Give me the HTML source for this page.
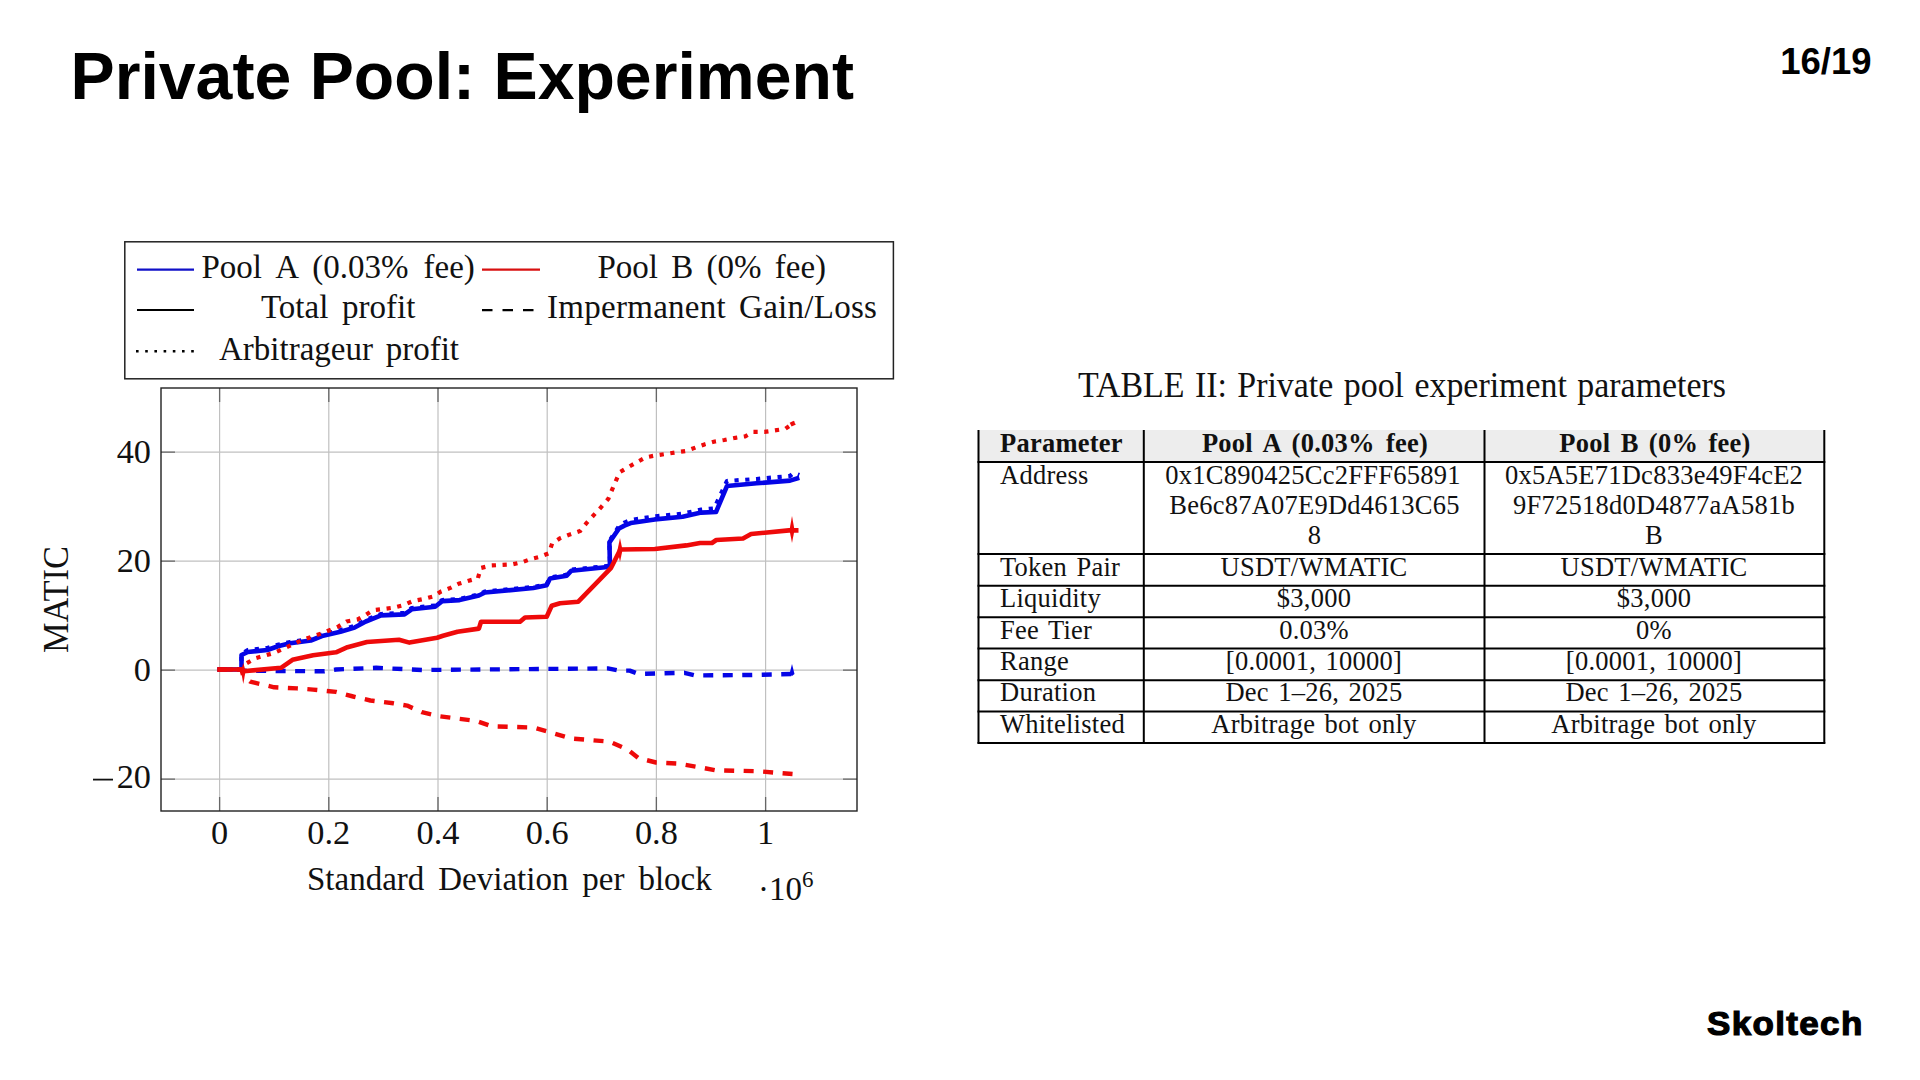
<!DOCTYPE html>
<html><head><meta charset="utf-8">
<style>
html,body{margin:0;padding:0;background:#fff;}
body{width:1920px;height:1080px;overflow:hidden;position:relative;}
svg{position:absolute;left:0;top:0;}
.sans{font-family:"Liberation Sans",sans-serif;font-weight:bold;}
.serif{font-family:"Liberation Serif",serif;}
</style></head><body>
<svg width="1920" height="1080" viewBox="0 0 1920 1080">
<!-- Title -->
<text class="sans" x="70.5" y="99" font-size="66.2" fill="#000">Private Pool: Experiment</text>
<text class="sans" x="1871.5" y="73.5" font-size="36.5" fill="#000" text-anchor="end">16/19</text>
<text class="sans" x="1707" y="1034.6" font-size="34" fill="#000" stroke="#000" stroke-width="1.2" letter-spacing="1.3" transform="translate(1707 0) scale(1.03 1) translate(-1707 0)">Skoltech</text>

<!-- Legend -->
<g id="legend">
<rect x="124.8" y="241.8" width="768.6" height="137" fill="#fff" stroke="#222" stroke-width="1.5"/>
<g class="serif" font-size="33" fill="#111">
<text x="201.5" y="278" word-spacing="6.8">Pool A (0.03% fee)</text>
<text x="597.5" y="278" word-spacing="5">Pool B (0% fee)</text>
<text x="261" y="318" word-spacing="5.5">Total profit</text>
<text x="547" y="318" word-spacing="4.5" letter-spacing="0.28">Impermanent Gain/Loss</text>
<text x="219" y="360" word-spacing="4.5">Arbitrageur profit</text>
</g>
<line x1="137" y1="269.6" x2="194" y2="269.6" stroke="#1010c8" stroke-width="2.2"/>
<line x1="482" y1="269.6" x2="540" y2="269.6" stroke="#d81010" stroke-width="2.2"/>
<line x1="137" y1="310" x2="194" y2="310" stroke="#000" stroke-width="2.2"/>
<line x1="482" y1="310.1" x2="533.5" y2="310.1" stroke="#000" stroke-width="2.2" stroke-dasharray="10.5 10"/>
<line x1="136" y1="351.3" x2="195" y2="351.3" stroke="#000" stroke-width="2.6" stroke-dasharray="2.6 6.6"/>
</g>

<!-- Plot -->
<g id="plot">
<!-- grid -->
<g stroke="#c0c0c0" stroke-width="1.2">
<line x1="219.6" y1="388" x2="219.6" y2="811"/>
<line x1="328.8" y1="388" x2="328.8" y2="811"/>
<line x1="438" y1="388" x2="438" y2="811"/>
<line x1="547.2" y1="388" x2="547.2" y2="811"/>
<line x1="656.4" y1="388" x2="656.4" y2="811"/>
<line x1="765.6" y1="388" x2="765.6" y2="811"/>
<line x1="161" y1="452.2" x2="857" y2="452.2"/>
<line x1="161" y1="561.2" x2="857" y2="561.2"/>
<line x1="161" y1="670.2" x2="857" y2="670.2"/>
<line x1="161" y1="779.2" x2="857" y2="779.2"/>
</g>
<!-- ticks -->
<g stroke="#666" stroke-width="1.3">
<path d="M219.6 388v14M328.8 388v14M438 388v14M547.2 388v14M656.4 388v14M765.6 388v14"/>
<path d="M219.6 811v-14M328.8 811v-14M438 811v-14M547.2 811v-14M656.4 811v-14M765.6 811v-14"/>
<path d="M161 452.2h14M161 561.2h14M161 670.2h14M161 779.2h14"/>
<path d="M857 452.2h-14M857 561.2h-14M857 670.2h-14M857 779.2h-14"/>
</g>
<g id="data" fill="none" stroke-linejoin="round">
<polyline points="217.5,669.5 241.5,669.5 243.2,670.7 324.6,671.3 336,669.5 376.2,667.8 422,670 607.8,668.4 618.8,670.6 629.7,670.6 638.5,673.9 684.4,672.8 695.3,675.4 750,675 798.2,673.9" stroke="#0505e6" stroke-width="4.4" stroke-dasharray="10 9.5"/>
<polyline points="217.5,669.5 241.5,669.5 241.5,654 247.8,650 267.3,648 278.8,644.5 290.2,642 310.8,639 322,634.5 340.4,630 354.6,626 365.8,620 381.1,614 404.5,613 411.7,608 435.1,605.5 442.2,600 459.5,599 478.9,594.5 485,591.5 533.3,587 546.7,584.3 550,577.6 566.7,574.7 571.4,569.7 610,565.7 609.4,541 619,526 624.4,522.6 630.7,520 654.8,516.4 682.6,513.7 701.1,509.6 714,508.5 727,481 756.7,479 790,476 793.7,473 799.3,475" stroke="#0505e6" stroke-width="4.2" stroke-dasharray="4.2 6.6"/>
<polyline points="217.5,669.5 241.5,669.5 241.5,655 247.8,652 267.3,650 278.8,646 290.2,643.2 310.8,640.5 322,636 340.4,631.7 354.6,627.6 365.8,621.5 381.1,615.4 404.5,614.4 411.7,609.3 435.1,606.7 442.2,601.1 459.5,600.1 478.9,595.5 485,592.5 533.3,588 546.7,585.3 550,578.6 566.7,575.7 571.4,570.7 610,566.7 609.4,542.4 619,528.5 624.4,525.6 630.7,523.1 654.8,519.4 682.6,516.7 701.1,512.6 716,512 727,486 756.7,483.3 790,480.6 799.3,477.8" stroke="#0505e6" stroke-width="4.6"/>
<polyline points="217.5,669.5 241.5,669.5 243.2,675.8 250.1,681.6 274.2,687.3 297.1,688.4 313.1,689.6 336,691.9 353.2,696.5 370.4,700.5 393.3,703.3 407.1,705.6 421.9,712.2 438.3,716.1 476.6,721 491.9,726.4 533.4,727.5 548.8,731.9 570.6,738.4 610,741.7 627.5,749.4 638.5,758.1 656,762.5 677.8,763.6 697.5,766.9 715,770.2 758.8,771.3 798.2,774.5" stroke="#ee0a0a" stroke-width="4.4" stroke-dasharray="10 9.5"/>
<polyline points="217.5,669.5 241.5,669.5 246.7,663.2 255.8,658.1 274.2,652.9 284.5,648.3 301.7,640.3 324.6,632.3 338.3,626.6 346.5,621.5 357.7,619.4 365.8,614.9 373,610.3 393.3,607.7 403.5,605.2 412.7,601.1 422.9,599.1 433.1,596.5 441.2,591.4 450.4,587.9 458.5,583.8 468.7,580.7 477.9,578.2 480.9,568 491.1,565.5 512.2,564.4 522.2,562.2 531.1,558.9 540,556.7 548.9,553.3 552.2,543.3 560,538.3 570,534.4 580,531.1 586.7,522.8 593.3,515.6 601.1,507.2 608.3,498.9 611.7,490.6 619.6,472.2 630.7,465.7 645.6,457.4 654.8,455.6 686.3,450.9 704.4,444.4 714.8,441.5 724.4,440 735.5,437.8 745.2,436.3 753.3,431.9 764.4,431.9 774.8,430.4 785.2,428.9 792.6,423.7 795,423" stroke="#ee0a0a" stroke-width="4.2" stroke-dasharray="4.2 6.6"/>
<polyline points="217.5,669.5 241.5,669.5 243.2,671.3 255.8,670.1 281,667.8 292.5,659.8 313.1,655.2 336,652.3 347.5,647.2 367,642 399,639.7 409.4,642.6 437.1,637.8 443,635.8 457.5,631.7 478.9,628.6 481,621.8 520,621.7 525,617.5 546.7,616.7 551.7,605.8 560,603.3 578.3,601.7 611.1,567.8 620.3,549.5 654.8,549 686.3,545.4 700,543 711.9,543 716.3,540 743,538.5 751.1,534 788.9,530.4 798.5,530.4" stroke="#ee0a0a" stroke-width="4.6"/>
<g stroke="none">
<rect x="790.4" y="421.5" width="4.4" height="4.4" fill="#ee0a0a" transform="rotate(-25 792.6 423.7)"/>
<path d="M243.3 663 L245.6 671 L243.3 684 L241 671Z" fill="#ee0a0a"/>
<path d="M620 538 L622.5 550 L620 562 L617.5 550Z" fill="#ee0a0a"/>
<path d="M792 516 L794.5 530 L792 543 L789.5 530Z" fill="#ee0a0a"/>
<path d="M792 664 L794.5 674 L792 676 L789.5 674Z" fill="#0505e6"/>
</g>
</g>
<rect x="161" y="388" width="696" height="423" fill="none" stroke="#222" stroke-width="1.4"/>
</g>

<!-- axis labels -->
<g class="serif" font-size="34.3" fill="#111">
<text x="151" y="462.7" text-anchor="end">40</text>
<text x="151" y="571.8" text-anchor="end">20</text>
<text x="151" y="680.8" text-anchor="end">0</text>
<text x="151" y="788" text-anchor="end">20</text>
<line x1="93" y1="779.6" x2="113" y2="779.6" stroke="#111" stroke-width="1.8"/>
<text x="219.6" y="844.2" text-anchor="middle">0</text>
<text x="328.8" y="844.2" text-anchor="middle">0.2</text>
<text x="438" y="844.2" text-anchor="middle">0.4</text>
<text x="547.2" y="844.2" text-anchor="middle">0.6</text>
<text x="656.4" y="844.2" text-anchor="middle">0.8</text>
<text x="765.6" y="844.2" text-anchor="middle">1</text>
<text x="307" y="889.8" font-size="33" word-spacing="5.7">Standard Deviation per block</text>
<text x="758" y="899.6" font-size="33">·10<tspan font-size="23" dy="-13">6</tspan></text>
<text transform="translate(67.8,599.6) rotate(-90)" text-anchor="middle" font-size="36" textLength="107" lengthAdjust="spacingAndGlyphs">MATIC</text>
</g>

<!-- Table -->
<g id="table">
<text class="serif" x="1078" y="396.8" font-size="35" fill="#111" word-spacing="2" textLength="648" lengthAdjust="spacingAndGlyphs">TABLE II: Private pool experiment parameters</text>
<rect x="979" y="430" width="845" height="31.5" fill="#ededed"/>
<g stroke="#000" stroke-width="2" fill="none">
<line x1="978.5" y1="430" x2="978.5" y2="743.5"/>
<line x1="1143.8" y1="430" x2="1143.8" y2="743.5"/>
<line x1="1484.5" y1="430" x2="1484.5" y2="743.5"/>
<line x1="1824.3" y1="430" x2="1824.3" y2="743.5"/>
<line x1="977.5" y1="462" x2="1825.3" y2="462"/>
<line x1="977.5" y1="554" x2="1825.3" y2="554"/>
<line x1="977.5" y1="585.7" x2="1825.3" y2="585.7"/>
<line x1="977.5" y1="617.2" x2="1825.3" y2="617.2"/>
<line x1="977.5" y1="648.6" x2="1825.3" y2="648.6"/>
<line x1="977.5" y1="680.2" x2="1825.3" y2="680.2"/>
<line x1="977.5" y1="711.6" x2="1825.3" y2="711.6"/>
<line x1="977.5" y1="743" x2="1825.3" y2="743"/>
</g>
<g class="serif" font-size="26.5" fill="#111" word-spacing="2.5" letter-spacing="0.25">
<text x="1000" y="452" font-weight="bold">Parameter</text>
<text x="1315" y="452" font-weight="bold" text-anchor="middle" word-spacing="4.2">Pool A (0.03% fee)</text>
<text x="1655" y="452" font-weight="bold" text-anchor="middle" word-spacing="3.4">Pool B (0% fee)</text>
<text x="1000" y="483.5">Address</text>
<text x="1313" y="483.5" text-anchor="middle">0x1C890425Cc2FFF65891</text>
<text x="1314.5" y="513.8" text-anchor="middle">Be6c87A07E9Dd4613C65</text>
<text x="1314.5" y="544" text-anchor="middle">8</text>
<text x="1654" y="483.5" text-anchor="middle">0x5A5E71Dc833e49F4cE2</text>
<text x="1654" y="513.8" text-anchor="middle">9F72518d0D4877aA581b</text>
<text x="1654" y="544" text-anchor="middle">B</text>
<text x="1000" y="575.5">Token Pair</text>
<text x="1314" y="575.5" text-anchor="middle">USDT/WMATIC</text>
<text x="1654" y="575.5" text-anchor="middle">USDT/WMATIC</text>
<text x="1000" y="607">Liquidity</text>
<text x="1314" y="607" text-anchor="middle">$3,000</text>
<text x="1654" y="607" text-anchor="middle">$3,000</text>
<text x="1000" y="638.7">Fee Tier</text>
<text x="1314" y="638.7" text-anchor="middle">0.03%</text>
<text x="1654" y="638.7" text-anchor="middle">0%</text>
<text x="1000" y="670.4">Range</text>
<text x="1314" y="670.4" text-anchor="middle">[0.0001, 10000]</text>
<text x="1654" y="670.4" text-anchor="middle">[0.0001, 10000]</text>
<text x="1000" y="701.3">Duration</text>
<text x="1314" y="701.3" text-anchor="middle">Dec 1–26, 2025</text>
<text x="1654" y="701.3" text-anchor="middle">Dec 1–26, 2025</text>
<text x="1000" y="732.6">Whitelisted</text>
<text x="1314" y="732.6" text-anchor="middle">Arbitrage bot only</text>
<text x="1654" y="732.6" text-anchor="middle">Arbitrage bot only</text>
</g>
</g>
</svg>
</body></html>
